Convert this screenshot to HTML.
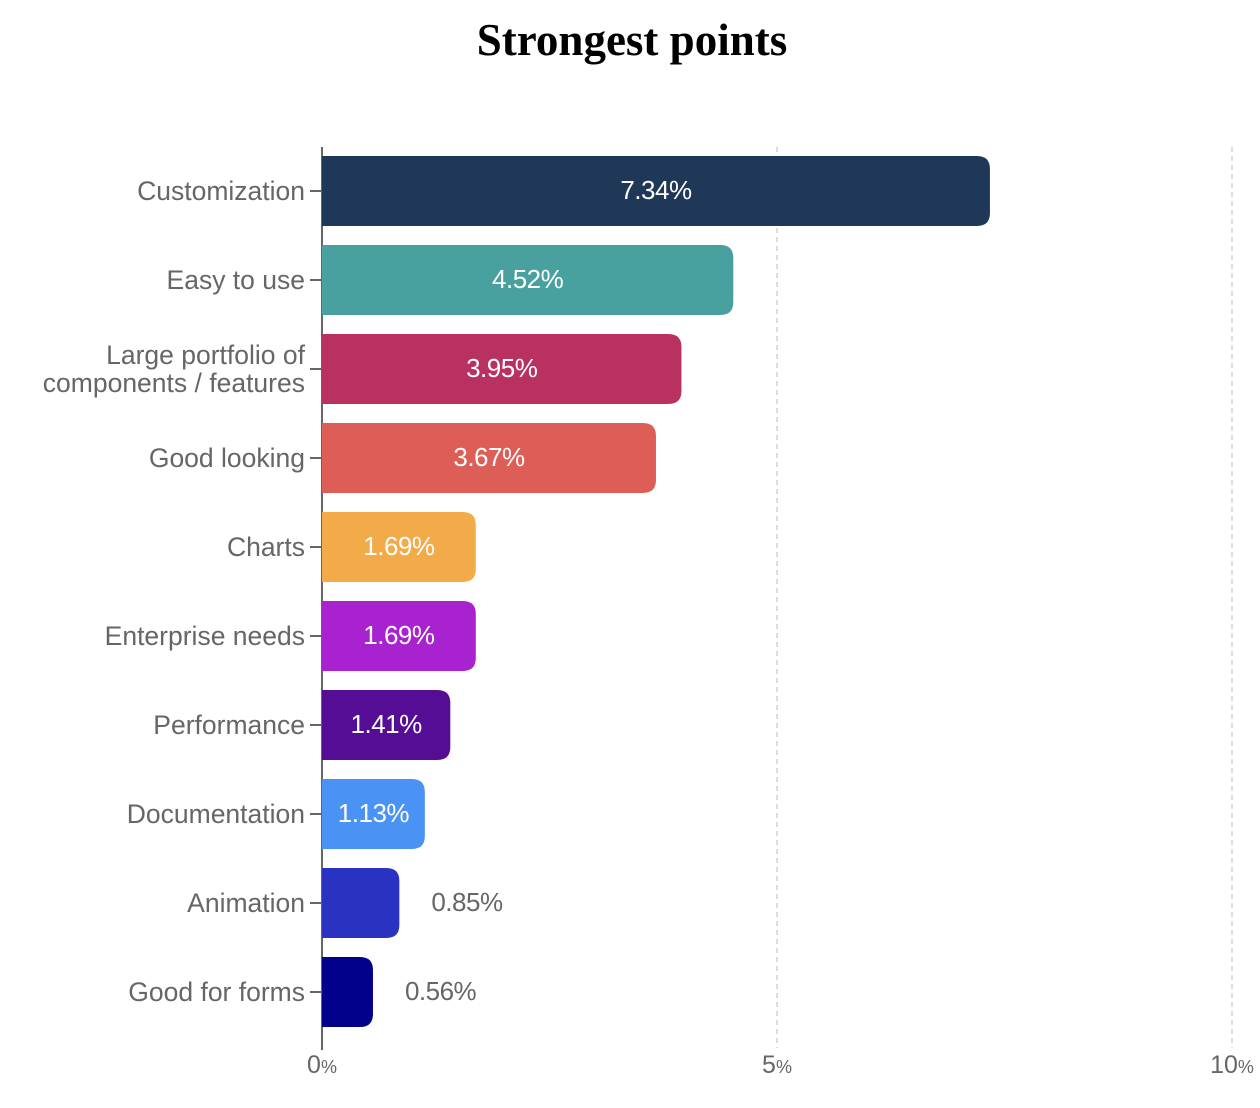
<!DOCTYPE html>
<html><head><meta charset="utf-8"><style>
html,body{margin:0;padding:0;background:#fff;width:1260px;height:1108px;overflow:hidden}
</style></head><body>
<svg width="1260" height="1108" xmlns="http://www.w3.org/2000/svg">
<text x="632" y="55" text-anchor="middle" font-family="Liberation Serif, serif" font-weight="bold" font-size="45" fill="#000">Strongest points</text>
<g id="grid"></g>
<g id="bars"></g>
<g id="ylab"></g>
<g id="xlab"></g>
</svg>
<script>
const categories = ["Customization","Easy to use","Large portfolio of|components / features","Good looking","Charts","Enterprise needs","Performance","Documentation","Animation","Good for forms"];
const values = [7.34,4.52,3.95,3.67,1.69,1.69,1.41,1.13,0.85,0.56];
const colors = ["#203858","#49a19f","#b93160","#dd5e56","#f3ab49","#a822cf","#560d96","#4a92f3","#2a32c2","#01018b"];
const xTicks = [0,5,10];
const NS="http://www.w3.org/2000/svg";
const x0=322, pxPer=91, top0=156, step=89, bh=70;
const xs=v=>x0+v*pxPer;
const yc=i=>top0+i*step;
function mk(t,a,p){const e=document.createElementNS(NS,t);for(const k in a)e.setAttribute(k,a[k]);p.appendChild(e);return e;}
const grid=document.getElementById('grid'),bars=document.getElementById('bars'),ylab=document.getElementById('ylab'),xlab=document.getElementById('xlab');
xTicks.forEach(t=>{
  if(t>0){const l=mk('line',{x1:xs(t),x2:xs(t),y1:147,y2:1048,stroke:'#bbb','stroke-dasharray':'5,4','stroke-width':1},grid);
  
  }
  const tx=mk('text',{x:xs(t),y:1073,'text-anchor':'middle','font-family':'Liberation Sans, sans-serif','font-size':25,fill:'#666'},xlab);
  tx.innerHTML=t+'<tspan font-size="18">%</tspan>';
  
  
});
const ax=mk('line',{x1:x0,x2:x0,y1:147,y2:1050,stroke:'#666','stroke-width':2},grid);


values.forEach((v,i)=>{
  const y=yc(i),w=xs(v)-x0,r=Math.min(13,w/2);
  const p=mk('path',{d:`M${x0},${y}H${x0+w-r}Q${x0+w},${y} ${x0+w},${y+r}V${y+bh-r}Q${x0+w},${y+bh} ${x0+w-r},${y+bh}H${x0}Z`,fill:colors[i]},bars);
  
  
  const inside=v>1;
  const t=mk('text',{x:inside?x0+w/2:x0+w+32,y:y+bh/2+8,'text-anchor':inside?'middle':'start','font-family':'Liberation Sans, sans-serif','font-size':26,fill:inside?'#fff':'#666','letter-spacing':'-0.5'},bars);
  t.textContent=v.toFixed(2)+'%';
  
  
  const tk=mk('line',{x1:310,x2:322,y1:y+bh/2,y2:y+bh/2,stroke:'#666','stroke-width':2},ylab);
  
  
  const parts=categories[i].split('|');
  parts.forEach((s,j)=>{
    const ty=y+bh/2+9+(parts.length>1?(j===0?-14:14):0);
    const lt=mk('text',{x:305,y:ty,'text-anchor':'end','font-family':'Liberation Sans, sans-serif','font-size':26.5,fill:'#666','letter-spacing':'0'},ylab);
    lt.textContent=s;
    
    
  });
});
</script>
</body></html>
